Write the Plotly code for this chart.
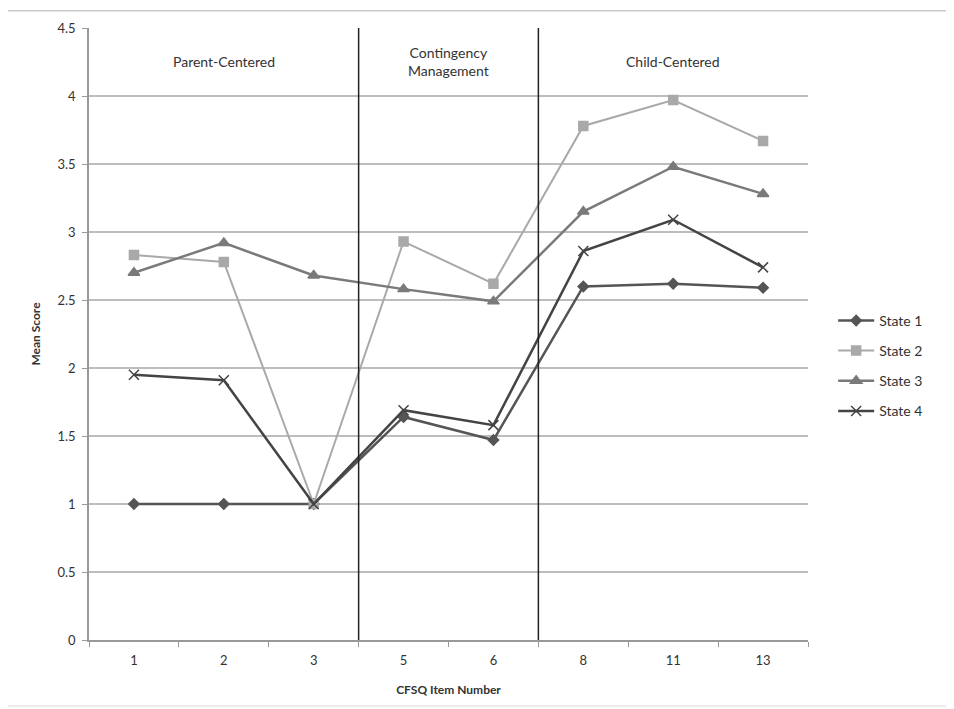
import plotly.graph_objects as go

categories = ["1", "2", "3", "5", "6", "8", "11", "13"]
state1 = [1.0, 1.0, 1.0, 1.64, 1.47, 2.60, 2.62, 2.59]
state2 = [2.83, 2.78, 1.0, 2.93, 2.62, 3.78, 3.97, 3.67]
state3 = [2.70, 2.92, 2.68, 2.58, 2.49, 3.15, 3.48, 3.28]
state4 = [1.95, 1.91, 1.0, 1.69, 1.58, 2.86, 3.09, 2.74]
series_names = ["State 1", "State 2", "State 3", "State 4"]
section_labels = ["Parent-Centered", "Contingency<br>Management", "Child-Centered"]
section_centers = [1, 3.5, 6]
section_dividers = [2.5, 4.5]

FONT = "Lato, 'Open Sans', sans-serif"

styles = [
    dict(color="#555555", symbol="diamond", size=8, width=2.5),
    dict(color="#a9a9a9", symbol="square", size=9, width=2),
    dict(color="#7a7a7a", symbol="triangle-up", size=10, width=2.5),
    dict(color="#444444", symbol="x-thin", size=10, width=2.5),
]

fig = go.Figure()
for name, vals, st in zip(series_names, [state1, state2, state3, state4], styles):
    fig.add_trace(go.Scatter(
        x=categories, y=vals, name=name, mode="lines+markers", legendgroup=name,
        line=dict(color=st["color"], width=st["width"]),
        marker=dict(symbol=st["symbol"], size=st["size"], color=st["color"],
                    line=dict(color=st["color"], width=1.5)),
    ))

for d in section_dividers:
    fig.add_shape(type="line", xref="x", yref="paper", x0=d, x1=d, y0=0, y1=1,
                  line=dict(color="#222222", width=1.5))

for lbl, c in zip(section_labels, section_centers):
    fig.add_annotation(x=c, xref="x", y=0.945, yref="paper", text=lbl,
                       showarrow=False, font=dict(family=FONT, size=14, color="#333"),
                       yanchor="middle")

# outer chart frame (top, left, bottom edges)
frame_l, frame_r, frame_b, frame_t = -0.114, 1.3, -0.108, 1.028
for (x0, y0, x1, y1, col) in [(frame_l, frame_t, frame_r, frame_t, "#c8c8c8"),
                              (frame_l, frame_b, frame_l, frame_t, "#c8c8c8"),
                              (frame_l, frame_b, frame_r, frame_b, "#e6e6e6")]:
    fig.add_shape(type="line", xref="paper", yref="paper", x0=x0, y0=y0, x1=x1, y1=y1,
                  line=dict(color=col, width=1.5), layer="below")

fig.update_layout(
    width=954, height=709,
    margin=dict(l=81, r=154, t=17, b=77),
    paper_bgcolor="white", plot_bgcolor="white",
    font=dict(family=FONT, size=13, color="#333"),
    legend=dict(x=1.035, y=0.448, xanchor="left", yanchor="middle",
                font=dict(family=FONT, size=14, color="#333"),
                tracegroupgap=9, itemwidth=36),
    xaxis=dict(type="category", range=[-0.5, 7.5], tickson="boundaries",
               ticks="outside", ticklen=5, tickcolor="#999",
               showline=True, linecolor="#999", linewidth=1.5,
               showgrid=False, tickfont=dict(size=13), ticklabelstandoff=8,
               title=dict(text="<b>CFSQ Item Number</b>", font=dict(size=12), standoff=18)),
    yaxis=dict(range=[0, 4.5], dtick=0.5, tick0=0,
               ticks="outside", ticklen=5, tickcolor="#999",
               showline=True, linecolor="#999", linewidth=1.5,
               showgrid=True, gridcolor="#bdbdbd", gridwidth=1.5,
               zeroline=False, tickfont=dict(size=13), ticklabelstandoff=4,
               title=dict(text="<b>Mean Score</b>", font=dict(size=12), standoff=14)),
)

fig.write_html("out.html")
